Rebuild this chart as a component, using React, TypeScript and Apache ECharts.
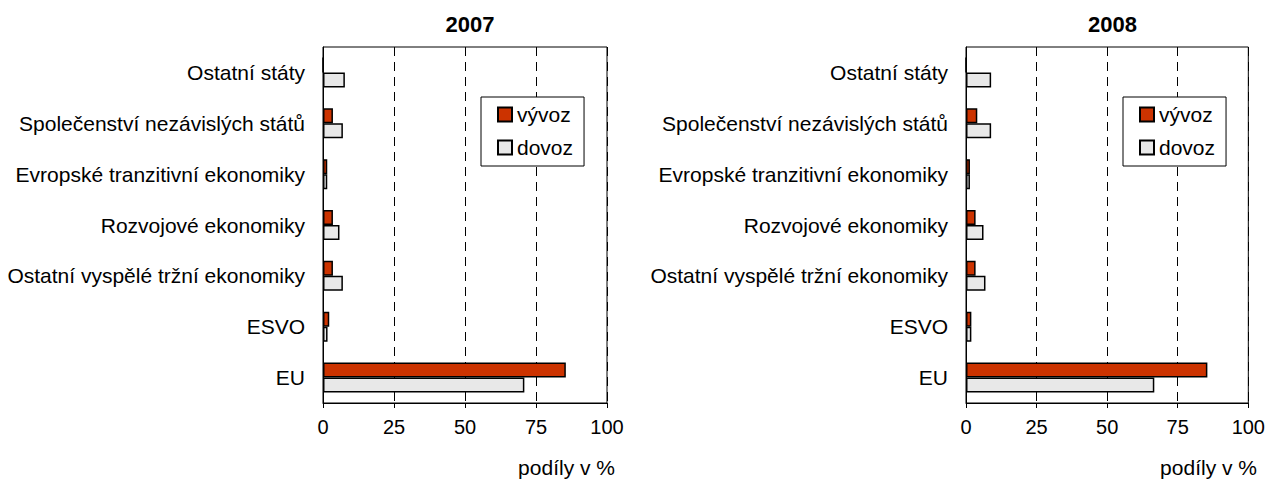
import React, { useEffect, useRef } from "react";
import * as echarts from "echarts";

const categories = [
  "EU",
  "ESVO",
  "Ostatní vyspělé tržní ekonomiky",
  "Rozvojové ekonomiky",
  "Evropské tranzitivní ekonomiky",
  "Společenství nezávislých států",
  "Ostatní státy",
];
const export2007 = [85.5, 2.2, 3.5, 3.5, 1.5, 3.5, 0];
const import2007 = [70.9, 1.6, 7.0, 5.8, 1.5, 7.0, 7.7];
const export2008 = [85.5, 1.9, 3.4, 3.4, 1.4, 4.0, 0];
const import2008 = [66.7, 1.9, 6.9, 6.2, 1.4, 8.9, 8.9];
const years = ["2007", "2008"];
const xTicks = [0, 25, 50, 75, 100];
const seriesNames = ["vývoz", "dovoz"];
const axisName = "podíly v %";

const FONT = "'Liberation Sans', Arial, sans-serif";
const RED = "#CC3300";
const GRAY = "#E8E8E8";

export default function App() {
  const ref = useRef<HTMLDivElement>(null);
  useEffect(() => {
    if (!ref.current) return;
    const chart = echarts.init(ref.current, undefined, { renderer: "svg" });
    const grids = [
      { left: 323, width: 284, top: 47, height: 356 },
      { left: 966, width: 283, top: 47, height: 356 },
    ];
    const xAxis = grids.map((_, i) => ({
      type: "value",
      gridIndex: i,
      min: xTicks[0],
      max: xTicks[xTicks.length - 1],
      interval: 25,
      axisLine: { show: true, lineStyle: { color: "#000", width: 1 } },
      axisTick: { show: true, length: 5, lineStyle: { color: "#000" } },
      axisLabel: { color: "#000", fontSize: 20, fontFamily: FONT, margin: 14 },
      splitLine: { show: true, lineStyle: { color: "#000", type: [9, 6], width: 1 } },
    }));
    const yAxis = grids.map((_, i) => ({
      type: "category",
      gridIndex: i,
      data: categories,
      axisLine: { show: true, lineStyle: { color: "#000", width: 1 } },
      axisTick: { show: false },
      axisLabel: { color: "#000", fontSize: 21, fontFamily: FONT, margin: 18 },
    }));
    const mk = (name: string, data: number[], color: string, idx: number) => ({
      type: "bar",
      name,
      data,
      xAxisIndex: idx,
      yAxisIndex: idx,
      barWidth: 15,
      barGap: "0%",
      itemStyle: { color, borderColor: "#000", borderWidth: 1.5 },
    });
    const series = [
      mk(seriesNames[0], export2007, RED, 0),
      mk(seriesNames[1], import2007, GRAY, 0),
      mk(seriesNames[0], export2008, RED, 1),
      mk(seriesNames[1], import2008, GRAY, 1),
    ];
    const legendBase = {
      orient: "vertical",
      top: 97,
      data: seriesNames,
      icon: "rect",
      itemWidth: 14,
      itemHeight: 14,
      itemGap: 12,
      padding: [7, 11, 8, 16],
      borderColor: "#000",
      borderWidth: 1,
      backgroundColor: "#fff",
      textStyle: { color: "#000", fontSize: 21, fontFamily: FONT },
      selectedMode: false,
    };
    chart.setOption({
      animation: false,
      backgroundColor: "#fff",
      title: years.map((y, i) => ({
        text: y,
        left: grids[i].left + grids[i].width / 2,
        top: 8,
        textAlign: "center",
        textStyle: { color: "#000", fontSize: 22, fontWeight: "bold", fontFamily: FONT },
      })),
      grid: grids.map((g) => ({ ...g, show: true, borderColor: "#000", borderWidth: 1, backgroundColor: "transparent" })),
      xAxis,
      yAxis,
      legend: [
        { ...legendBase, left: 481 },
        { ...legendBase, left: 1123 },
      ],
      graphic: grids.map((g) => ({
        type: "text",
        right: 1268 - (g.left + g.width) - 8,
        top: 457,
        style: { text: axisName, fill: "#000", fontSize: 21, fontFamily: FONT },
      })),
      series,
    });
    return () => chart.dispose();
  }, []);
  return (
    <div
      ref={ref}
      style={{ position: "fixed", left: 0, top: 0, width: 1268, height: 480 }}
    />
  );
}
